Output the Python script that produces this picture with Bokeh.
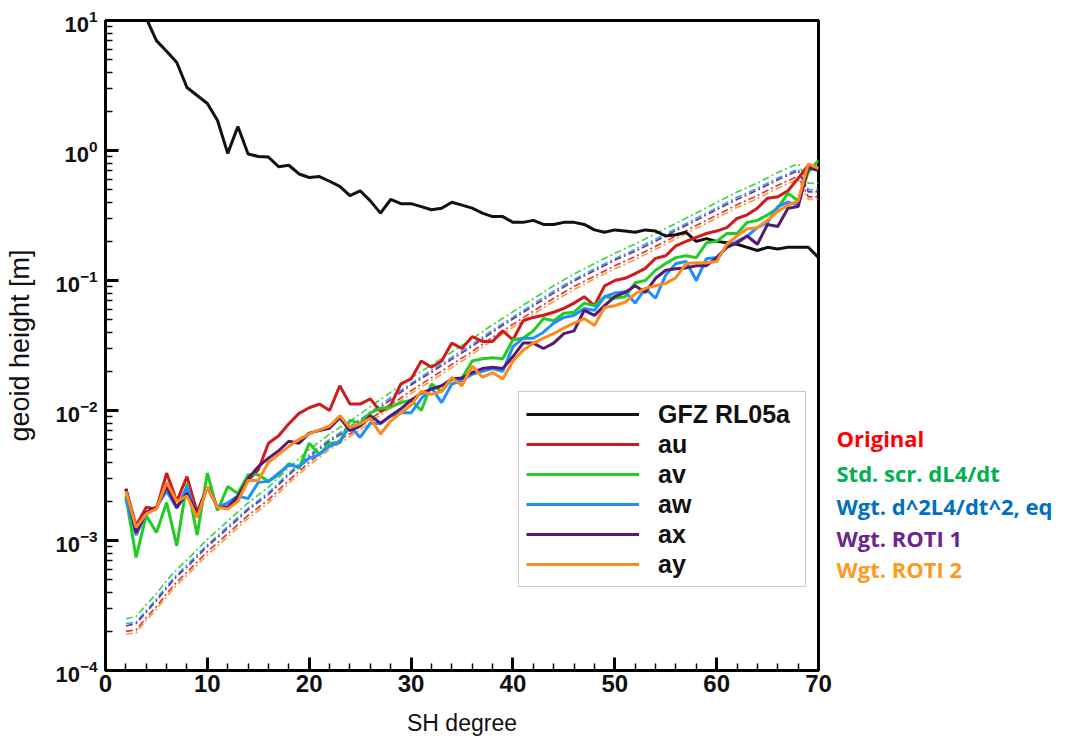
from bokeh.plotting import figure
from bokeh.layouts import row
from bokeh.models import Legend, LegendItem, FixedTicker, LogTicker, Range1d
from bokeh.core.properties import value
from bokeh.embed import file_html
from bokeh.resources import INLINE

# ---------------- data ----------------
DEG = list(range(2, 71))

GFZ = [35, 15, 10.4, 7.0, 5.8, 4.75, 3.05, 2.65, 2.3, 1.7, 0.95, 1.53, 0.94, 0.90, 0.89,
       0.75, 0.77, 0.66, 0.62, 0.63, 0.58, 0.53, 0.45, 0.49, 0.41, 0.33, 0.42, 0.39, 0.39,
       0.37, 0.35, 0.36, 0.40, 0.38, 0.36, 0.33, 0.31, 0.31, 0.28, 0.28, 0.29, 0.27, 0.27,
       0.28, 0.28, 0.27, 0.245, 0.235, 0.245, 0.24, 0.235, 0.245, 0.24, 0.22, 0.225, 0.235,
       0.20, 0.21, 0.20, 0.195, 0.19, 0.18, 0.17, 0.18, 0.175, 0.18, 0.18, 0.18, 0.15]

AU = [2.5e-3, 1.3e-3, 1.8e-3, 1.75e-3, 3.3e-3, 2.0e-3, 3.1e-3, 1.65e-3, 2.6e-3, 1.8e-3,
      1.8e-3, 2.1e-3, 2.9e-3, 3.5e-3, 5.6e-3, 6.4e-3, 7.9e-3, 9.5e-3, 1.05e-2, 1.12e-2,
      1.0e-2, 1.55e-2, 1.12e-2, 1.12e-2, 1.23e-2, 9.8e-3, 1.1e-2, 1.6e-2, 1.75e-2, 2.4e-2,
      2.15e-2, 2.4e-2, 3.3e-2, 3.0e-2, 3.7e-2, 3.4e-2, 3.4e-2, 4.1e-2, 3.5e-2, 4.9e-2,
      5.2e-2, 5.4e-2, 5.7e-2, 6.1e-2, 6.7e-2, 7.5e-2, 6.4e-2, 9.1e-2, 0.100, 0.104,
      0.113, 0.124, 0.148, 0.155, 0.185, 0.200, 0.215, 0.230, 0.240, 0.255, 0.300, 0.320,
      0.360, 0.430, 0.440, 0.490, 0.610, 0.770, 0.730]

AV = [2.2e-3, 7.4e-4, 1.56e-3, 1.15e-3, 1.96e-3, 9.1e-4, 2.75e-3, 1.1e-3, 3.3e-3, 1.7e-3,
      2.6e-3, 2.3e-3, 3.2e-3, 3.2e-3, 2.85e-3, 3.2e-3, 3.9e-3, 3.6e-3, 5.6e-3, 4.6e-3,
      5.6e-3, 5.7e-3, 8.4e-3, 8.0e-3, 9.6e-3, 1.04e-2, 1.06e-2, 1.15e-2, 1.2e-2, 1.0e-2,
      1.6e-2, 1.4e-2, 1.75e-2, 1.78e-2, 2.4e-2, 2.5e-2, 2.55e-2, 2.5e-2, 3.5e-2, 3.6e-2,
      4.1e-2, 5.1e-2, 4.9e-2, 5.6e-2, 5.7e-2, 6.7e-2, 6.4e-2, 7.5e-2, 7.3e-2, 7.5e-2,
      9.6e-2, 0.100, 0.120, 0.135, 0.150, 0.155, 0.150, 0.195, 0.200, 0.230, 0.230, 0.280,
      0.290, 0.320, 0.360, 0.470, 0.410, 0.680, 0.840]

AW = [2.1e-3, 1.1e-3, 1.6e-3, 1.8e-3, 2.4e-3, 1.77e-3, 2.6e-3, 1.5e-3, 2.6e-3, 1.8e-3,
      1.95e-3, 2.2e-3, 2.1e-3, 2.8e-3, 2.85e-3, 3.3e-3, 3.8e-3, 3.7e-3, 4.3e-3, 4.6e-3,
      5.3e-3, 5.7e-3, 7.6e-3, 6.2e-3, 8.0e-3, 7.9e-3, 9.1e-3, 9.6e-3, 9.6e-3, 1.23e-2,
      1.5e-2, 1.15e-2, 1.6e-2, 1.7e-2, 1.9e-2, 2.0e-2, 2.1e-2, 2.0e-2, 3.1e-2, 3.6e-2,
      3.6e-2, 4.0e-2, 4.7e-2, 5.2e-2, 5.4e-2, 6.1e-2, 5.9e-2, 7.5e-2, 8.0e-2, 8.2e-2,
      6.7e-2, 8.7e-2, 7.3e-2, 0.110, 0.135, 0.140, 0.100, 0.147, 0.150, 0.180, 0.200,
      0.220, 0.255, 0.280, 0.370, 0.400, 0.380, 0.770, 0.730]

AX = [2.5e-3, 1.15e-3, 1.65e-3, 1.8e-3, 2.6e-3, 1.8e-3, 2.3e-3, 1.6e-3, 2.6e-3, 1.8e-3,
      1.8e-3, 2.2e-3, 3.0e-3, 3.7e-3, 4.3e-3, 4.9e-3, 5.8e-3, 5.6e-3, 6.7e-3, 7.0e-3,
      7.3e-3, 8.8e-3, 7.0e-3, 7.6e-3, 9.1e-3, 8.0e-3, 9.1e-3, 1.03e-2, 1.2e-2, 1.36e-2,
      1.46e-2, 1.55e-2, 1.75e-2, 1.78e-2, 1.96e-2, 2.1e-2, 2.15e-2, 2.1e-2, 2.6e-2, 3.3e-2,
      3.3e-2, 3.0e-2, 3.3e-2, 3.9e-2, 4.1e-2, 5.9e-2, 5.4e-2, 6.4e-2, 7.5e-2, 8.1e-2,
      9.1e-2, 8.1e-2, 0.104, 0.120, 0.123, 0.125, 0.130, 0.130, 0.150, 0.180, 0.195,
      0.220, 0.190, 0.270, 0.260, 0.360, 0.370, 0.740, 0.700]

AY = [2.4e-3, 1.26e-3, 1.6e-3, 1.75e-3, 2.8e-3, 2.0e-3, 2.2e-3, 1.5e-3, 2.6e-3, 1.8e-3,
      1.75e-3, 2.0e-3, 2.9e-3, 2.9e-3, 4.0e-3, 4.6e-3, 5.3e-3, 6.0e-3, 6.6e-3, 7.1e-3,
      7.6e-3, 9.1e-3, 7.4e-3, 7.9e-3, 8.7e-3, 6.6e-3, 8.3e-3, 9.6e-3, 1.1e-2, 1.4e-2,
      1.33e-2, 1.4e-2, 1.8e-2, 1.55e-2, 2.2e-2, 1.8e-2, 1.96e-2, 1.75e-2, 2.4e-2, 2.9e-2,
      3.3e-2, 3.6e-2, 3.9e-2, 4.3e-2, 4.7e-2, 5.1e-2, 4.5e-2, 6.2e-2, 6.4e-2, 6.8e-2,
      7.9e-2, 8.7e-2, 9.1e-2, 9.5e-2, 0.105, 0.135, 0.137, 0.137, 0.140, 0.190, 0.220,
      0.250, 0.255, 0.290, 0.340, 0.380, 0.410, 0.790, 0.730]

# dash-dot error curves (sparser degrees)
DASH_DEG = [2, 3, 4, 5, 6, 7, 8, 10, 12, 14, 16, 18, 20, 22, 24, 26, 28, 30, 32, 34, 36,
            38, 40, 42, 44, 46, 48, 50, 52, 54, 56, 58, 60, 62, 64, 66, 68, 69, 70]
ERR_AV = [2.5e-4, 2.6e-4, 3.2e-4, 3.9e-4, 4.9e-4, 6.0e-4, 7.1e-4, 1.02e-3, 1.41e-3,
          1.95e-3, 2.57e-3, 3.63e-3, 5.0e-3, 6.6e-3, 8.3e-3, 1.07e-2, 1.38e-2, 1.78e-2,
          2.24e-2, 2.82e-2, 3.55e-2, 4.57e-2, 5.75e-2, 7.24e-2, 9.12e-2, 0.112, 0.135,
          0.162, 0.191, 0.229, 0.275, 0.331, 0.398, 0.479, 0.562, 0.676, 0.794, 0.56, 0.56]
ERR_AW = [2.3e-4, 2.35e-4, 2.9e-4, 3.55e-4, 4.45e-4, 5.45e-4, 6.5e-4, 9.3e-4, 1.28e-3,
          1.77e-3, 2.34e-3, 3.3e-3, 4.55e-3, 6.0e-3, 7.55e-3, 9.7e-3, 1.26e-2, 1.62e-2,
          2.04e-2, 2.57e-2, 3.23e-2, 4.16e-2, 5.23e-2, 6.59e-2, 8.3e-2, 0.102, 0.123,
          0.147, 0.174, 0.208, 0.250, 0.301, 0.362, 0.436, 0.511, 0.615, 0.720, 0.50, 0.50]
ERR_AX = [2.2e-4, 2.3e-4, 2.8e-4, 3.45e-4, 4.3e-4, 5.3e-4, 6.25e-4, 9.0e-4, 1.24e-3,
          1.72e-3, 2.26e-3, 3.2e-3, 4.4e-3, 5.8e-3, 7.3e-3, 9.4e-3, 1.21e-2, 1.57e-2,
          1.97e-2, 2.48e-2, 3.12e-2, 4.02e-2, 5.06e-2, 6.37e-2, 8.0e-2, 9.9e-2, 0.119,
          0.143, 0.168, 0.200, 0.242, 0.291, 0.350, 0.420, 0.495, 0.595, 0.700, 0.48, 0.48]
ERR_AU = [2.0e-4, 2.05e-4, 2.55e-4, 3.1e-4, 3.9e-4, 4.8e-4, 5.7e-4, 8.2e-4, 1.13e-3,
          1.56e-3, 2.06e-3, 2.9e-3, 4.0e-3, 5.3e-3, 6.6e-3, 8.6e-3, 1.1e-2, 1.42e-2,
          1.79e-2, 2.26e-2, 2.84e-2, 3.66e-2, 4.6e-2, 5.8e-2, 7.3e-2, 9.0e-2, 0.108,
          0.130, 0.153, 0.183, 0.220, 0.265, 0.318, 0.383, 0.450, 0.540, 0.635, 0.44, 0.44]
ERR_AY = [1.9e-4, 1.95e-4, 2.45e-4, 2.95e-4, 3.7e-4, 4.55e-4, 5.4e-4, 7.75e-4, 1.07e-3,
          1.48e-3, 1.95e-3, 2.76e-3, 3.8e-3, 5.0e-3, 6.3e-3, 8.1e-3, 1.05e-2, 1.35e-2,
          1.7e-2, 2.14e-2, 2.7e-2, 3.47e-2, 4.37e-2, 5.5e-2, 6.9e-2, 8.5e-2, 0.103,
          0.123, 0.145, 0.174, 0.209, 0.252, 0.302, 0.364, 0.427, 0.514, 0.600, 0.42, 0.42]

SERIES_NAMES = ["GFZ RL05a", "au", "av", "aw", "ax", "ay"]
NOTE_TEXTS = ["Original", "Std. scr. dL4/dt", "Wgt. d^2L4/dt^2, eq", "Wgt. ROTI 1", "Wgt. ROTI 2"]
NOTE_Y = [6.1e-3, 3.3e-3, 1.85e-3, 1.05e-3, 6.0e-4]
X_TICKS = [0, 10, 20, 30, 40, 50, 60, 70]

# ---------------- styling ----------------
C_BLACK = "#111111"
C_RED = "#d21a1a"
C_GREEN = "#22cc22"
C_BLUE = "#1f8fff"
C_PURPLE = "#561a70"
C_ORANGE = "#ff8a1c"
NOTE_COLORS = ["#ff0000", "#00b050", "#0070c0", "#6a2590", "#ff9a1f"]

TICK_FONT = "Liberation Sans"
H = 740

p = figure(width=834, height=H, y_axis_type="log",
           x_range=(0, 70), y_range=(1e-4, 1e1),
           output_backend="svg", toolbar_location=None,
           min_border_left=105, min_border_right=16,
           min_border_top=20, min_border_bottom=70)

p.background_fill_color = "white"
p.border_fill_color = "white"
p.outline_line_color = "black"
p.outline_line_width = 3
p.grid.visible = False

# dash-dot curves
for vals, col in [(ERR_AV, C_GREEN), (ERR_AW, C_BLUE), (ERR_AX, C_PURPLE),
                  (ERR_AU, C_RED), (ERR_AY, C_ORANGE)]:
    p.line(DASH_DEG, vals, line_color=col, line_width=1.7, line_dash="7 3 2 3",
           line_alpha=0.85)

r_black = p.line(DEG, GFZ, line_color=C_BLACK, line_width=3)
rs = []
for vals, col in [(AU, C_RED), (AV, C_GREEN), (AW, C_BLUE), (AX, C_PURPLE), (AY, C_ORANGE)]:
    rs.append(p.line(DEG, vals, line_color=col, line_width=3))
renderers = [r_black] + rs

legend = Legend(items=[LegendItem(label=n, renderers=[r]) for n, r in zip(SERIES_NAMES, renderers)],
                location=(413, 83), orientation="vertical")
legend.glyph_width = 113
legend.glyph_height = 30
legend.label_height = 30
legend.spacing = 0
legend.padding = 7
legend.margin = 0
legend.label_standoff = 19
legend.label_width = 140
legend.label_text_font = TICK_FONT
legend.label_text_font_style = "bold"
legend.label_text_font_size = "25px"
legend.label_text_color = "#111111"
legend.border_line_color = "#9a9a9a"
legend.border_line_width = 1.5
legend.background_fill_color = "white"
legend.background_fill_alpha = 1.0
p.add_layout(legend, "center")

# axes
p.xaxis.ticker = FixedTicker(ticks=X_TICKS, minor_ticks=list(range(0, 71, 2)))
p.yaxis.ticker = LogTicker(num_minor_ticks=10)
for ax in (p.xaxis[0], p.yaxis[0]):
    ax.axis_line_width = 3
    ax.axis_line_color = "black"
    ax.major_tick_in = 13
    ax.major_tick_out = 0
    ax.minor_tick_in = 7
    ax.minor_tick_out = 0
    ax.major_tick_line_width = 3
    ax.minor_tick_line_width = 1.5
    ax.major_label_text_font = TICK_FONT
    ax.major_label_text_font_style = "bold"
    ax.major_label_text_color = "#111111"
    ax.axis_label_text_font = TICK_FONT
    ax.axis_label_text_font_style = "normal"
    ax.axis_label_text_color = "#111111"

p.xaxis.major_label_text_font_size = "24px"
p.yaxis.major_label_text_font_size = "22px"
p.xaxis.axis_label_text_font_size = "23px"
p.yaxis.axis_label_text_font_size = "27px"
p.xaxis.axis_label = "SH degree"
p.yaxis.axis_label = "geoid height [m]"
p.xaxis.major_label_standoff = 4
p.yaxis.major_label_standoff = 8
p.xaxis.axis_label_standoff = 15
p.yaxis.axis_label_standoff = 17

# side notes panel (outside the plot frame)
p2 = figure(width=226, height=H, y_axis_type="log",
            x_range=Range1d(0, 226), y_range=p.y_range,
            output_backend="svg", toolbar_location=None,
            x_axis_location=None, y_axis_location=None,
            min_border_left=0, min_border_right=0,
            min_border_top=20, min_border_bottom=70)
p2.outline_line_color = None
p2.grid.visible = False
p2.background_fill_color = "white"
p2.border_fill_color = "white"
p2.text(x=[2] * len(NOTE_TEXTS), y=NOTE_Y, text=NOTE_TEXTS, text_color=NOTE_COLORS,
        text_font=value("Open Sans"), text_font_size="22px", text_font_style="bold",
        text_baseline="middle", text_align="left")

layout = row(p, p2, spacing=0)
open("out.html", "w").write(file_html(layout, INLINE))
